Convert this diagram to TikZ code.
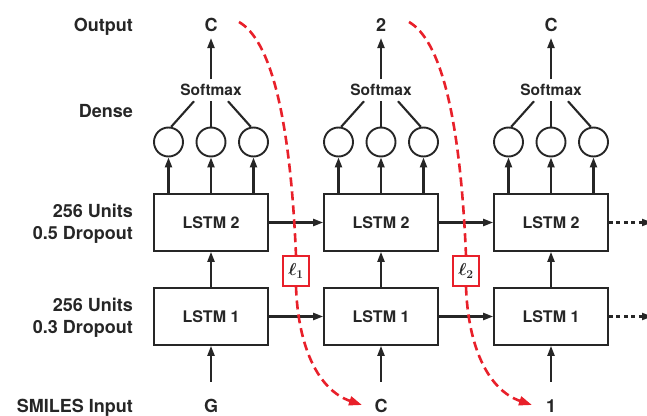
\documentclass[tikz,border=0pt]{standalone}
\usepackage{bm}
\usepackage{fontspec}
\setmainfont{TeX Gyre Heros}
\usetikzlibrary{arrows.meta, calc}
\definecolor{cred}{HTML}{E8202A}
\definecolor{cink}{HTML}{262626}
\tikzset{
  every picture/.style={line width=2.1pt, color=cink},
  lbl/.style={font=\fontsize{18}{22}\selectfont\bfseries, align=right, inner sep=0pt},
  sym/.style={font=\fontsize{18}{22}\selectfont\bfseries, text height=13pt, text depth=0pt, inner sep=5pt},
  lstm/.style={draw, line width=1.7pt, minimum width=114pt, minimum height=57pt, font=\fontsize{16}{19}\selectfont\bfseries},
  unit/.style={draw, circle, line width=1.9pt, minimum size=29pt, inner sep=0pt},
  smax/.style={font=\fontsize{15.5}{19}\selectfont\bfseries, inner sep=4pt},
  arrow/.style={-{Triangle[length=10pt, width=7pt]}},
  dotarrow/.style={arrow, dash pattern=on 4pt off 3.5pt},
  grad/.style={draw=cred, line width=2.6pt, dash pattern=on 9pt off 5pt, -{Triangle[length=13pt, width=9pt]}},
  lossbox/.style={draw=cred, line width=2pt, fill=white, minimum width=26pt, minimum height=29pt, inner sep=0pt, font=\fontsize{17}{20}\selectfont},
}

\begin{document}
\begin{tikzpicture}[x=1pt, y=1pt]
  \useasboundingbox (0,0) rectangle (647,415);
  % row labels
  \node[lbl, anchor=base east] (lout) at (134,383) {Output};
  \node[lbl, anchor=base east] (ldense) at (134,297) {Dense};
  \node[lbl, anchor=east] (ltwo) at (134,191) {256 Units\\0.5 Dropout};
  \node[lbl, anchor=east] (lone) at (134,97) {256 Units\\0.3 Dropout};
  \node[lbl, anchor=base east] (lin) at (134,3) {SMILES Input};
  % one column per time step
  \foreach \i/\x/\o/\s in {1/211/C/G, 2/381/2/C, 3/551/C/1} {
    \node[lstm] (lstmtwo\i) at (\x,192.5) {LSTM 2};
    \node[lstm] (lstmone\i) at (\x,98.5) {LSTM 1};
    \node[unit] (da\i) at (\x-42.5,273) {};
    \node[unit] (db\i) at (\x,273) {};
    \node[unit] (dc\i) at (\x+42.5,273) {};
    \node[smax, anchor=base] (sm\i) at (\x,319) {Softmax};
    \node[sym, anchor=base] (out\i) at (\x,383) {\o};
    \node[sym, anchor=base] (in\i) at (\x,3) {\s};
    \draw[arrow] ([yshift=11pt]in\i.north) -- (lstmone\i);
    \draw[arrow] (lstmone\i) -- (lstmtwo\i);
    \foreach \d in {da,db,dc}
      \draw[arrow] (lstmtwo\i.north -| \d\i) -- (\d\i);
    \draw ([xshift=-17pt]sm\i.south) -- (da\i.80);
    \draw (sm\i.south) -- (db\i.north);
    \draw ([xshift=17pt]sm\i.south) -- (dc\i.100);
    \draw[arrow] (sm\i.north) -- (out\i.south);
  }
  % recurrent connections
  \foreach \i/\j in {1/2, 2/3} {
    \draw[arrow] (lstmtwo\i) -- (lstmtwo\j);
    \draw[arrow] (lstmone\i) -- (lstmone\j);
  }
  \coordinate (etwo) at (652,192.5);
  \coordinate (eone) at (652,98.5);
  \draw[dotarrow] (lstmtwo3) -- (etwo);
  \draw[dotarrow] (lstmone3) -- (eone);
  % losses
  \node[lossbox] (loss1) at (296,144) {$\bm{\ell}_{\bm{1}}$};
  \node[lossbox] (loss2) at (466,144) {$\bm{\ell}_{\bm{2}}$};
  \foreach \i/\j in {1/2, 2/3} {
    \coordinate (s\i) at ($(out\i.base)+(28,10)$);
    \draw[grad, -] (s\i) .. controls +(31,-18) and +(-6,142) .. (loss\i.north);
    \draw[grad] (loss\i.south) .. controls +(2,-60) and +(-44,15) .. ($(in\j.base)+(-19,7)$);
  }
\end{tikzpicture}
\end{document}
